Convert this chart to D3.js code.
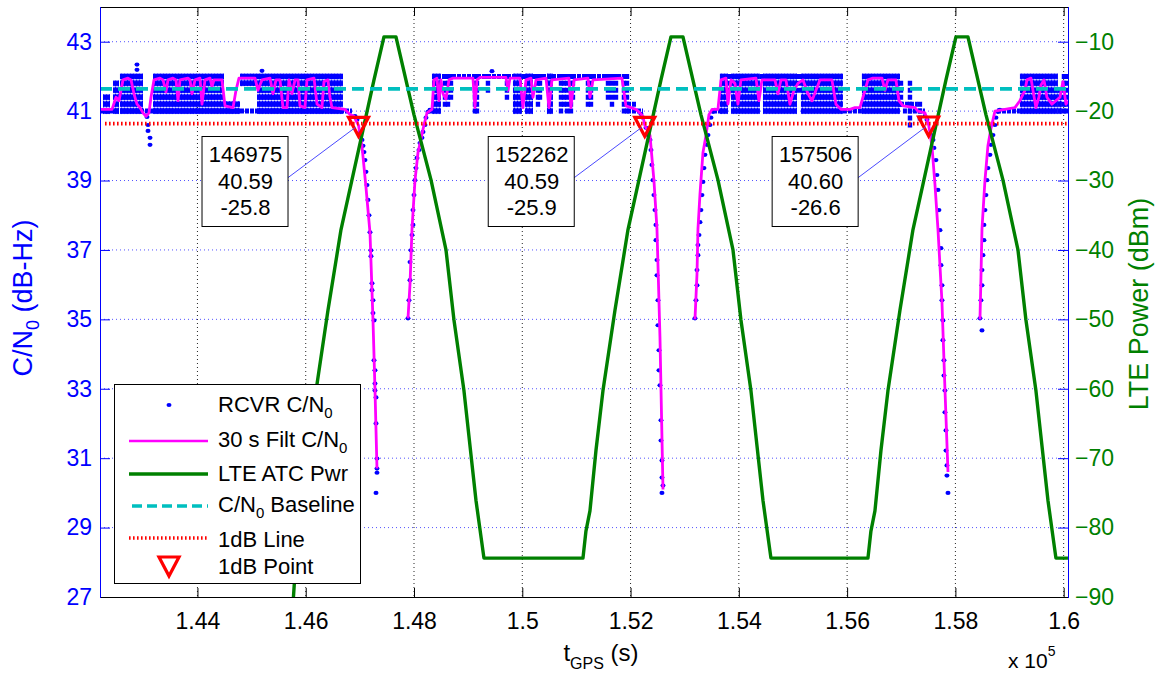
<!DOCTYPE html>
<html><head><meta charset="utf-8">
<script src="https://cdn.jsdelivr.net/npm/d3@7"></script>
<style>
body{margin:0;background:#fff;}
svg{display:block;font-family:"Liberation Sans",Arial,Helvetica,sans-serif;}
</style></head><body>
<svg id="chart" width="1156" height="679"></svg>
<script>
// ---------------- DATA ----------------
const xTicks = [144000,146000,148000,150000,152000,154000,156000,158000,160000];
const xTickLabels = ["1.44","1.46","1.48","1.5","1.52","1.54","1.56","1.58","1.6"];
const yLeftTicks = [27,29,31,33,35,37,39,41,43];
const yRightTicks = [-90,-80,-70,-60,-50,-40,-30,-20,-10];

// LTE ATC power (dBm) vs GPS time (s)
const lteT = [145765,145820,145876,145949,146060,146190,146411,146651,146854,147058,147261,147445,147667,147999,148314,148591,148738,148923,149145,149292,
  151121,151176,151250,151361,151490,151712,151952,152155,152358,152562,152746,152968,153300,153614,153892,154039,154224,154446,154593,
  156385,156440,156514,156625,156754,156976,157216,157419,157622,157826,158010,158232,158564,158878,159156,159303,159488,159710,159857,160079];
const lteP = [-91,-84.4,-80.5,-77.6,-68.9,-60.3,-48.7,-37.1,-29.9,-22.7,-15.5,-9.3,-9.3,-20.5,-29.9,-40.0,-50.1,-60.3,-76.1,-84.4,
  -84.4,-80.5,-77.6,-68.9,-60.3,-48.7,-37.1,-29.9,-22.7,-15.5,-9.3,-9.3,-20.5,-29.9,-40.0,-50.1,-60.3,-76.1,-84.4,
  -84.4,-80.5,-77.6,-68.9,-60.3,-48.7,-37.1,-29.9,-22.7,-15.5,-9.3,-9.3,-20.5,-29.9,-40.0,-50.1,-60.3,-76.1,-84.4,-84.4];

// 30 s filtered C/N0 (null = data gap)
const filtT = [142200,142422,142496,142551,142625,142717,142773,142828,142883,142939,142994,143050,143105,143142,143197,143308,143364,143419,143456,143548,
  143604,143641,143678,143825,143862,143899,143955,144047,144084,144139,144232,144269,144306,144453,144509,144657,144712,144767,145063,145118,
  145192,145340,145395,145451,145525,145580,145654,145691,145746,145802,145857,145894,145986,146023,146153,146208,146300,146337,146411,146448,
  146485,146725,146818,146891,146975,147039,147113,147187,147242,147279,147316,null,
  147889,147926,147963,148018,148073,148129,148184,148240,148332,148369,148424,148461,148498,148535,148591,148646,148720,149089,149126,149163,
  149219,149699,149736,149773,149957,150013,150068,150161,150198,150253,150438,150493,150548,150862,150899,150955,151213,151250,151306,151841,
  151915,152100,152174,152229,152262,152359,152432,152488,152543,152599,null,
  153190,153227,153245,153282,153337,153393,153448,153504,153614,153670,153762,153799,153855,153928,153984,154039,154316,154372,154427,154667,
  154723,154778,154870,154944,155018,155092,155184,155277,155351,155425,155498,155720,155794,155886,156053,156145,156237,156311,156385,156477,
  156644,156699,156754,156902,156958,157031,157253,157308,157438,157506,157567,157622,157678,157752,157807,157863,null,
  158454,158472,158491,158546,158601,158657,158731,158915,159100,159192,159285,159322,159396,159433,159488,159543,159580,159636,159691,159783,
  159857,159931,159987,160042,160079];
const filtV = [41.05,41.05,41.4,41.3,41.9,41.95,41.9,41.5,41.2,41.1,40.95,40.85,40.95,41.4,41.9,41.95,41.9,41.55,41.9,41.95,
  41.9,41.3,41.9,41.95,41.9,41.5,41.9,41.95,41.2,41.9,41.95,41.7,41.9,41.9,41.15,41.1,41.6,41.95,41.95,41.6,
  41.9,41.95,41.5,41.9,41.9,41.1,41.1,41.9,41.5,41.9,41.9,41.15,41.1,41.9,41.95,41.2,41.1,41.85,41.9,41.4,
  41.1,41.05,40.9,40.85,40.59,40.0,38.8,37.5,35.0,33.0,30.7,null,
  35.03,36.0,37.6,39.0,39.8,40.2,40.6,40.95,41.05,41.9,41.95,41.3,41.9,41.5,41.35,41.9,41.95,41.95,41.1,41.9,
  41.97,41.97,41.6,41.95,41.95,41.1,41.9,41.95,41.4,41.9,41.95,41.1,41.9,41.95,41.1,41.9,41.95,41.4,41.9,41.95,
  41.15,41.05,40.95,40.85,40.59,40.3,39.0,37.6,34.5,30.1,null,
  35.0,36.3,37.6,38.6,39.8,40.3,40.9,41.05,41.05,41.9,41.95,41.2,41.9,41.8,41.2,41.9,41.95,41.3,41.9,41.9,
  41.5,41.9,41.9,41.2,41.6,41.8,41.9,41.5,41.3,41.6,41.9,41.9,41.2,41.05,41.05,41.1,41.1,41.5,41.9,41.95,
  41.95,41.6,41.9,41.9,41.3,41.15,41.1,41.0,40.95,40.6,40.0,38.9,37.6,35.5,33.0,30.6,null,
  35.0,36.2,37.6,39.0,40.0,40.5,41.0,41.05,41.1,41.3,41.6,41.9,41.95,41.6,41.1,41.4,41.75,41.9,41.4,41.2,
  41.3,41.4,41.85,41.2,41.3];

// Receiver C/N0 samples: isolated points [t, C/N0]
const rcvrPts = [[143068,40.83],[143087,40.6],[143087,40.43],[143124,40.23],[143124,40.03],
  [142883,42.34],[142883,42.19],[145192,42.16],[149440,42.15],
  [146910,40.86],[146947,40.75],[147002,40.4],[147039,40.17],[147058,40.0],[147076,39.82],[147095,39.59],[147113,39.25],[147132,38.87],[147150,38.44],
  [147168,38.0],[147187,37.51],[147205,36.99],[147205,36.82],[147224,36.04],[147224,35.84],[147242,35.55],[147242,35.18],[147261,34.97],[147261,33.82],
  [147279,33.53],[147279,33.15],[147279,32.95],[147298,32.75],[147298,32.0],[147316,30.99],[147316,30.7],[147316,30.58],[147298,30.0],
  [147889,35.03],[147907,35.55],[147926,36.13],[147926,36.65],[147944,36.99],[147963,37.43],[147981,37.72],[147981,38.15],[148000,38.58],[148018,39.01],
  [148037,39.36],[148055,39.65],[148092,39.88],[148110,40.08],[148147,40.23],[148166,40.4],[148203,40.6],[148221,40.81],[148258,40.98],[148295,41.04],
  [152192,40.92],[152229,40.81],[152285,40.52],[152322,40.31],[152359,40.17],[152377,39.88],[152395,39.45],[152414,39.01],[152432,38.58],[152451,38.15],
  [152469,37.72],[152469,37.28],[152488,36.71],[152488,36.27],[152506,35.55],[152506,34.83],[152525,34.11],[152525,33.53],[152543,33.1],[152562,32.09],
  [152562,31.51],[152580,30.93],[152580,30.44],[152599,30.21],[152580,30.0],
  [153190,35.03],[153208,35.55],[153227,35.98],[153227,36.42],[153245,36.85],[153245,37.14],[153264,37.43],[153282,37.8],[153300,38.15],[153319,38.58],
  [153337,38.96],[153356,39.36],[153374,39.74],[153411,40.03],[153430,40.31],[153467,40.6],[153485,40.81],[153522,40.98],[153559,41.04],
  [157438,40.86],[157475,40.75],[157549,40.31],[157586,40.17],[157604,39.94],[157641,39.59],[157659,39.16],[157678,38.73],[157696,38.15],[157715,37.57],
  [157733,37.05],[157733,36.56],[157752,35.98],[157752,35.55],[157770,34.97],[157770,34.4],[157789,33.82],[157789,33.38],[157807,32.95],[157807,32.32],
  [157826,31.8],[157826,31.22],[157844,30.79],[157844,30.5],[157863,30.0],
  [158454,35.03],[158491,34.68],[158472,35.55],[158491,35.98],[158491,36.42],[158509,36.85],[158527,37.28],[158527,37.72],[158546,38.15],[158564,38.58],
  [158583,39.01],[158601,39.36],[158638,39.74],[158657,40.03],[158694,40.31],[158731,40.6],[158749,40.81],[158785,40.98],[158823,41.04]];
// Receiver C/N0: runs of consecutive samples at one level [t0, t1, C/N0]
const rcvrRows = [[142200,146854,41.0],[142569,142994,42.0],[143179,144490,42.0],[144786,146688,42.0],[148258,148369,41.0],
  [148332,151934,42.0],[151934,152229,41.0],[151934,152118,41.2],[153522,153688,41.0],[153651,155923,42.0],[155923,156274,41.0],
  [156274,156976,42.0],[156976,157308,41.2],[157031,157438,41.0],[158768,159192,41.0],[159285,159783,42.0]];
// Receiver C/N0: stacks of samples toggling between levels at one time [t, low, high]
const rcvrCols = [[148572,41.2,42.0],[148628,41.2,42.0],[148683,41.4,42.0],[149126,41.0,42.0],[149163,41.0,42.0],[149366,41.6,42.0],
  [149717,41.4,42.0],[150290,41.2,42.0],[150327,41.4,42.0],[150715,41.0,42.0],[150770,41.2,42.0],[150826,41.0,42.0],[150899,41.0,42.0],
  [150936,41.4,42.0],[151213,41.2,42.0],[151269,41.2,42.0],[151583,41.4,42.0],[151657,41.2,42.0],[151731,41.4,42.0],[151878,41.0,42.0],
  [151934,41.0,42.0],[153818,41.6,42.0],[155111,41.6,42.0],[156995,41.2,41.8],[157161,40.6,41.8],[157345,40.8,41.2],[160005,41.0,42.0],[160042,41.0,42.0]];
// Receiver C/N0: spans densely filled with samples over a level range [t0, t1, low, high]
const rcvrBands = [[142255,142385,41.0,41.4],[142440,142551,41.0,41.8],[142569,142994,41.0,42.0],[143179,144490,41.0,42.0],
  [144490,144786,41.0,41.2],[144786,145100,41.8,42.0],[145100,146688,41.0,42.0],[148332,148498,41.0,42.0],[149828,149994,41.0,42.0],
  [150050,150198,41.0,42.0],[150456,150567,41.0,42.0],[153651,153799,41.0,42.0],[153855,154390,41.0,42.0],[154446,155074,41.0,42.0],
  [155147,155923,41.0,42.0],[156274,156976,41.0,42.0],[159192,159894,41.0,42.0],[159894,159968,41.0,41.6]];

const cnBaseline = 41.64;
const oneDbLine = 40.64;
const dbPointT = [146975,152262,157506];
const dbPointCN = [40.59,40.59,40.60];
const dbPointLTE = [-25.8,-25.9,-26.6];

const legendLabels = ["RCVR C/N","30 s Filt C/N","LTE ATC Pwr","C/N Baseline","1dB Line","1dB Point"];

// ---------------- CHART ----------------
const svg = d3.select("#chart");
const M = {l:100, r:1068, t:7, b:597};
const FONT = 23;
const x = d3.scaleLinear().domain([142200,160080]).range([M.l,M.r]);
const yL = d3.scaleLinear().domain([27,44]).range([M.b,M.t]);
const yR = d3.scaleLinear().domain([-90,-5]).range([M.b,M.t]);

svg.append("rect").attr("width",1156).attr("height",679).attr("fill","#fff");
const defs = svg.append("defs");
defs.append("clipPath").attr("id","clip").append("rect")
  .attr("x",M.l).attr("y",M.t).attr("width",M.r-M.l).attr("height",M.b-M.t);
const step = yL(41.8)-yL(42.0);
const pat = defs.append("pattern").attr("id","dotpat").attr("patternUnits","userSpaceOnUse")
  .attr("x",0).attr("y",yL(42.0)-3.2).attr("width",3).attr("height",step);
pat.append("ellipse").attr("cx",1.5).attr("cy",3.2).attr("rx",1.9).attr("ry",3.3).attr("fill","#0000ff");

// grid
const grid = svg.append("g");
grid.selectAll(".vg").data(xTicks).join("line")
  .attr("x1",d=>x(d)).attr("x2",d=>x(d)).attr("y1",M.t).attr("y2",M.b)
  .attr("stroke","#000").attr("stroke-width",1).attr("stroke-dasharray","1,3").attr("opacity",0.85);
grid.selectAll(".hg").data(yLeftTicks.filter(d=>d>27)).join("line")
  .attr("x1",M.l).attr("x2",M.r).attr("y1",d=>yL(d)).attr("y2",d=>yL(d))
  .attr("stroke","#2a2aff").attr("stroke-width",1).attr("stroke-dasharray","1,3").attr("opacity",0.8);

const plot = svg.append("g").attr("clip-path","url(#clip)");

// RCVR C/N0 samples
plot.selectAll(".band").data(rcvrBands).join("rect")
  .attr("x",d=>x(d[0])).attr("width",d=>x(d[1])-x(d[0]))
  .attr("y",d=>yL(d[3])-3).attr("height",d=>yL(d[2])-yL(d[3])+6)
  .attr("fill","url(#dotpat)");
plot.selectAll(".row").data(rcvrRows).join("line")
  .attr("x1",d=>x(d[0])).attr("x2",d=>x(d[1])).attr("y1",d=>yL(d[2])).attr("y2",d=>yL(d[2]))
  .attr("stroke","#0000ff").attr("stroke-width",5).attr("stroke-dasharray","4,1");
plot.selectAll(".col").data(rcvrCols).join("line")
  .attr("x1",d=>x(d[0])).attr("x2",d=>x(d[0])).attr("y1",d=>yL(d[2])-2.5).attr("y2",d=>yL(d[1])+2.5)
  .attr("stroke","#0000ff").attr("stroke-width",4.4).attr("stroke-dasharray",`5,${(step-5).toFixed(2)}`);
plot.selectAll(".pt").data(rcvrPts).join("ellipse")
  .attr("cx",d=>x(d[0])).attr("cy",d=>yL(d[1])).attr("rx",2.5).attr("ry",2.1)
  .attr("fill","#0000ff");

// 30 s filtered
const filtData = filtT.map((t,i)=>[t,filtV[i]]);
plot.append("path").datum(filtData)
  .attr("d", d3.line().defined(d=>d[0]!==null && d[1]!==null).x(d=>x(d[0])).y(d=>yL(d[1])))
  .attr("fill","none").attr("stroke","#ff00ff").attr("stroke-width",2.8).attr("stroke-linejoin","round");

// LTE power
const lteData = lteT.map((t,i)=>[t,lteP[i]]);
plot.append("path").datum(lteData)
  .attr("d", d3.line().x(d=>x(d[0])).y(d=>yR(d[1])))
  .attr("fill","none").attr("stroke","#008000").attr("stroke-width",3.4).attr("stroke-linejoin","round");

// baseline & 1 dB line
plot.append("line").attr("x1",x.range()[0]).attr("x2",x.range()[1])
  .attr("y1",yL(cnBaseline)).attr("y2",yL(cnBaseline))
  .attr("stroke","#00bfbf").attr("stroke-width",3.6).attr("stroke-dasharray","12,6");
plot.append("line").attr("x1",x.range()[0]+5).attr("x2",x.range()[1])
  .attr("y1",yL(oneDbLine)).attr("y2",yL(oneDbLine))
  .attr("stroke","#ff0000").attr("stroke-width",3.6).attr("stroke-dasharray","1.6,2.4");

// 1 dB points
const tri = (cx,cy)=>`M${cx-10},${cy-8}L${cx+10},${cy-8}L${cx},${cy+11}Z`;
plot.selectAll(".tri").data(dbPointT).join("path")
  .attr("d",(d,i)=>tri(x(d),yL(dbPointCN[i])))
  .attr("fill","none").attr("stroke","#ff0000").attr("stroke-width",3.2).attr("stroke-linejoin","miter");

// axes
const fmtAxis = (g,color,textColor)=>{
  g.select(".domain").remove();
  g.selectAll(".tick line").attr("stroke",color).attr("stroke-width",1);
  g.selectAll(".tick text").attr("fill",textColor).style("font-size",FONT+"px")
    .style("font-family",'"Liberation Sans",Arial,sans-serif');
};
svg.append("g").attr("transform",`translate(0,${M.b})`)
  .call(d3.axisBottom(x).tickValues(xTicks).tickSize(-9).tickPadding(16).tickFormat((d,i)=>xTickLabels[i]))
  .call(g=>fmtAxis(g,"#000","#000"));
svg.append("g").attr("transform",`translate(0,${M.t})`)
  .call(d3.axisTop(x).tickValues(xTicks).tickSize(-9).tickFormat(""))
  .call(g=>fmtAxis(g,"#000","#000"));
svg.append("g").attr("transform",`translate(${M.l},0)`)
  .call(d3.axisLeft(yL).tickValues(yLeftTicks).tickSize(-10).tickPadding(8).tickFormat(d3.format("d")))
  .call(g=>fmtAxis(g,"#0000ff","#0000ff"));
svg.append("g").attr("transform",`translate(${M.r},0)`)
  .call(d3.axisRight(yR).tickValues(yRightTicks).tickSize(-10).tickPadding(7).tickFormat(d3.format("d")))
  .call(g=>fmtAxis(g,"#0000ff","#008000"));

// frame
svg.append("line").attr("x1",M.l).attr("x2",M.r).attr("y1",M.t+0.5).attr("y2",M.t+0.5).attr("stroke","#000");
svg.append("line").attr("x1",M.l).attr("x2",M.r).attr("y1",M.b+0.5).attr("y2",M.b+0.5).attr("stroke","#000");
svg.append("line").attr("x1",M.l+0.5).attr("x2",M.l+0.5).attr("y1",M.t).attr("y2",M.b+1).attr("stroke","#0000ff");
svg.append("line").attr("x1",M.r+0.5).attr("x2",M.r+0.5).attr("y1",M.t).attr("y2",M.b+1).attr("stroke","#0000ff");

// axis labels
const yl = svg.append("text").attr("transform","translate(32,298) rotate(-90)")
  .attr("text-anchor","middle").attr("fill","#0000ff").style("font-size","27px");
yl.append("tspan").text("C/N");
yl.append("tspan").text("0").style("font-size","18px").attr("dy",7);
yl.append("tspan").text(" (dB-Hz)").attr("dy",-7);

svg.append("text").attr("transform","translate(1148,304) rotate(-90)")
  .attr("text-anchor","middle").attr("fill","#008000").style("font-size","27px").text("LTE Power (dBm)");

const xl = svg.append("text").attr("x",601).attr("y",661).attr("text-anchor","middle").attr("fill","#000").style("font-size","24px");
xl.append("tspan").text("t");
xl.append("tspan").text("GPS").style("font-size","16px").attr("dy",8);
xl.append("tspan").text(" (s)").attr("dy",-8);

const xs = svg.append("text").attr("x",1008).attr("y",668).attr("fill","#000").style("font-size","21px");
xs.append("tspan").text("x 10");
xs.append("tspan").text("5").style("font-size","14px").attr("dy",-12);

// data tips
const tips = svg.append("g");
dbPointT.forEach((t,i)=>{
  const mx = x(t), my = yL(dbPointCN[i]);
  const bx = mx-157, by = 136, bw = 86, bh = 90;
  tips.append("line").attr("x1",bx+bw).attr("y1",178).attr("x2",mx-3).attr("y2",my+2)
    .attr("stroke","#4a4aff").attr("stroke-width",1);
  tips.append("rect").attr("x",bx+0.5).attr("y",by+0.5).attr("width",bw).attr("height",bh)
    .attr("fill","#fff").attr("stroke","#000").attr("stroke-width",1);
  const lines = [t.toFixed(0), dbPointCN[i].toFixed(2), dbPointLTE[i].toFixed(1)];
  lines.forEach((s,j)=>{
    tips.append("text").attr("x",bx+bw/2+1).attr("y",162+j*26.5).attr("text-anchor","middle")
      .attr("fill","#000").style("font-size","22px").text(s);
  });
});

// legend
const lg = svg.append("g");
lg.append("rect").attr("x",114.5).attr("y",384.5).attr("width",246).attr("height",199)
  .attr("fill","#fff").attr("stroke","#000").attr("stroke-width",1);
const ly = [405,441,474,506,538,566];
const lb = [412,447,481,512,547,574];
lg.append("ellipse").attr("cx",169).attr("cy",ly[0]).attr("rx",2.5).attr("ry",2.1).attr("fill","#0000ff");
lg.append("line").attr("x1",129).attr("x2",208).attr("y1",ly[1]).attr("y2",ly[1]).attr("stroke","#ff00ff").attr("stroke-width",2.6);
lg.append("line").attr("x1",129).attr("x2",208).attr("y1",ly[2]).attr("y2",ly[2]).attr("stroke","#008000").attr("stroke-width",3.4);
lg.append("line").attr("x1",132).attr("x2",208).attr("y1",ly[3]).attr("y2",ly[3]).attr("stroke","#00bfbf").attr("stroke-width",3.6).attr("stroke-dasharray","10,5");
lg.append("line").attr("x1",129).attr("x2",208).attr("y1",ly[4]).attr("y2",ly[4]).attr("stroke","#ff0000").attr("stroke-width",3.6).attr("stroke-dasharray","1.6,2.4");
lg.append("path").attr("d",tri(169,ly[5]-1)).attr("fill","none").attr("stroke","#ff0000").attr("stroke-width",3.2);
legendLabels.forEach((s,i)=>{
  const t = lg.append("text").attr("x",218).attr("y",lb[i]).attr("fill","#000").style("font-size","22px");
  if (i===0 || i===1) {
    t.append("tspan").text(s);
    t.append("tspan").text("0").style("font-size","15px").attr("dy",6);
  } else if (i===3) {
    t.append("tspan").text("C/N");
    t.append("tspan").text("0").style("font-size","15px").attr("dy",6);
    t.append("tspan").text(" Baseline").attr("dy",-6);
  } else {
    t.text(s);
  }
});
</script>
</body></html>
